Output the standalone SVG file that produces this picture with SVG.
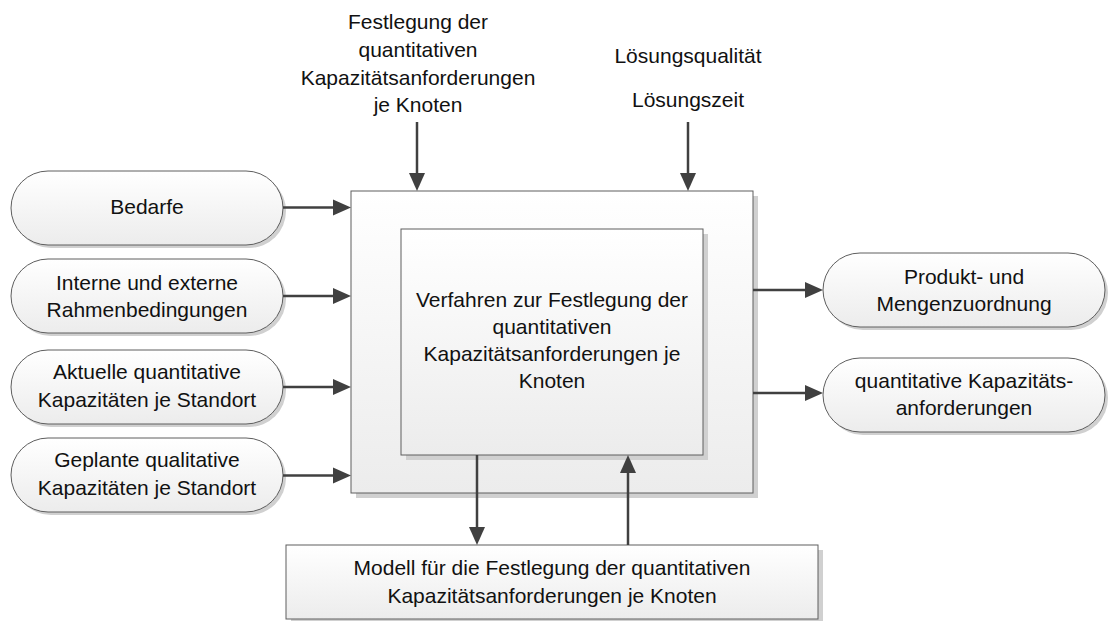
<svg xmlns="http://www.w3.org/2000/svg" width="1110" height="621" viewBox="0 0 1110 621">
  <defs>
    <linearGradient id="fillGrad" x1="0" y1="0" x2="0" y2="1">
      <stop offset="0" stop-color="#ffffff"/>
      <stop offset="1" stop-color="#ececec"/>
    </linearGradient>
    <marker id="arrow" viewBox="0 0 18 18" refX="12" refY="9" markerWidth="18" markerHeight="18" markerUnits="userSpaceOnUse" orient="auto">
      <path d="M0,1 L18,9 L0,17 z" fill="#404040"/>
    </marker>
    <style>
      .shape { fill: url(#fillGrad); stroke: #5e5e5e; stroke-width: 1; }
      .shadow { fill: #d0d0d0; }
      .label { font-family: "Liberation Sans", Arial, sans-serif; font-size: 21px; fill: #111111; text-anchor: middle; }
      .conn { stroke: #404040; stroke-width: 2.5; fill: none; marker-end: url(#arrow); }
    </style>
  </defs>

  <rect width="1110" height="621" fill="#ffffff"/>

  <!-- top labels -->
  <g id="label-festlegung">
    <text class="label" x="418" y="29">Festlegung der</text>
    <text class="label" x="418" y="57">quantitativen</text>
    <text class="label" x="418" y="85">Kapazitätsanforderungen</text>
    <text class="label" x="418" y="112">je Knoten</text>
  </g>
  <g id="label-loesung">
    <text class="label" x="688" y="63">Lösungsqualität</text>
    <text class="label" x="688" y="107">Lösungszeit</text>
  </g>

  <!-- central process -->
  <g id="outer-box">
    <rect class="shadow" x="356" y="196" width="402" height="302"/>
    <rect class="shape" x="351" y="191" width="402" height="302"/>
  </g>
  <g id="verfahren">
    <rect class="shadow" x="406" y="234" width="302" height="226"/>
    <rect class="shape" x="401" y="229" width="302" height="226"/>
    <text class="label" x="552" y="307">Verfahren zur Festlegung der</text>
    <text class="label" x="552" y="334">quantitativen</text>
    <text class="label" x="552" y="361">Kapazitätsanforderungen je</text>
    <text class="label" x="552" y="388">Knoten</text>
  </g>

  <!-- model -->
  <g id="modell">
    <rect class="shadow" x="291" y="550" width="532" height="74"/>
    <rect class="shape" x="286" y="545" width="532" height="74"/>
    <text class="label" x="552" y="575">Modell für die Festlegung der quantitativen</text>
    <text class="label" x="552" y="603">Kapazitätsanforderungen je Knoten</text>
  </g>

  <!-- inputs -->
  <g id="bedarfe">
    <rect class="shadow" x="14" y="174" width="272" height="74" rx="37" ry="37"/>
    <rect class="shape" x="11" y="171" width="272" height="74" rx="37" ry="37"/>
    <text class="label" x="147" y="214">Bedarfe</text>
  </g>
  <g id="rahmenbedingungen">
    <rect class="shadow" x="14" y="262" width="272" height="74" rx="37" ry="37"/>
    <rect class="shape" x="11" y="259" width="272" height="74" rx="37" ry="37"/>
    <text class="label" x="147" y="290">Interne und externe</text>
    <text class="label" x="147" y="317">Rahmenbedingungen</text>
  </g>
  <g id="aktuelle-kapazitaeten">
    <rect class="shadow" x="14" y="353" width="272" height="74" rx="37" ry="37"/>
    <rect class="shape" x="11" y="350" width="272" height="74" rx="37" ry="37"/>
    <text class="label" x="147" y="379">Aktuelle quantitative</text>
    <text class="label" x="147" y="407">Kapazitäten je Standort</text>
  </g>
  <g id="geplante-kapazitaeten">
    <rect class="shadow" x="14" y="441" width="272" height="74" rx="37" ry="37"/>
    <rect class="shape" x="11" y="438" width="272" height="74" rx="37" ry="37"/>
    <text class="label" x="147" y="467">Geplante qualitative</text>
    <text class="label" x="147" y="495">Kapazitäten je Standort</text>
  </g>

  <!-- outputs -->
  <g id="zuordnung">
    <rect class="shadow" x="826" y="256" width="282" height="74" rx="37" ry="37"/>
    <rect class="shape" x="823" y="253" width="282" height="74" rx="37" ry="37"/>
    <text class="label" x="964" y="284">Produkt- und</text>
    <text class="label" x="964" y="311">Mengenzuordnung</text>
  </g>
  <g id="anforderungen">
    <rect class="shadow" x="826" y="361" width="282" height="74" rx="37" ry="37"/>
    <rect class="shape" x="823" y="358" width="282" height="74" rx="37" ry="37"/>
    <text class="label" x="964" y="388">quantitative Kapazitäts-</text>
    <text class="label" x="964" y="415">anforderungen</text>
  </g>

  <!-- connectors -->
  <g id="connectors">
    <line class="conn" x1="417" y1="122" x2="417" y2="185"/>
    <line class="conn" x1="688" y1="122" x2="688" y2="185"/>
    <line class="conn" x1="283" y1="207.5" x2="345" y2="207.5"/>
    <line class="conn" x1="283" y1="296" x2="345" y2="296"/>
    <line class="conn" x1="283" y1="387" x2="345" y2="387"/>
    <line class="conn" x1="283" y1="475.5" x2="345" y2="475.5"/>
    <line class="conn" x1="753" y1="290" x2="817" y2="290"/>
    <line class="conn" x1="753" y1="393" x2="817" y2="393"/>
    <line class="conn" x1="477" y1="455" x2="477" y2="539"/>
    <line class="conn" x1="628" y1="545" x2="628" y2="461"/>
  </g>
</svg>
